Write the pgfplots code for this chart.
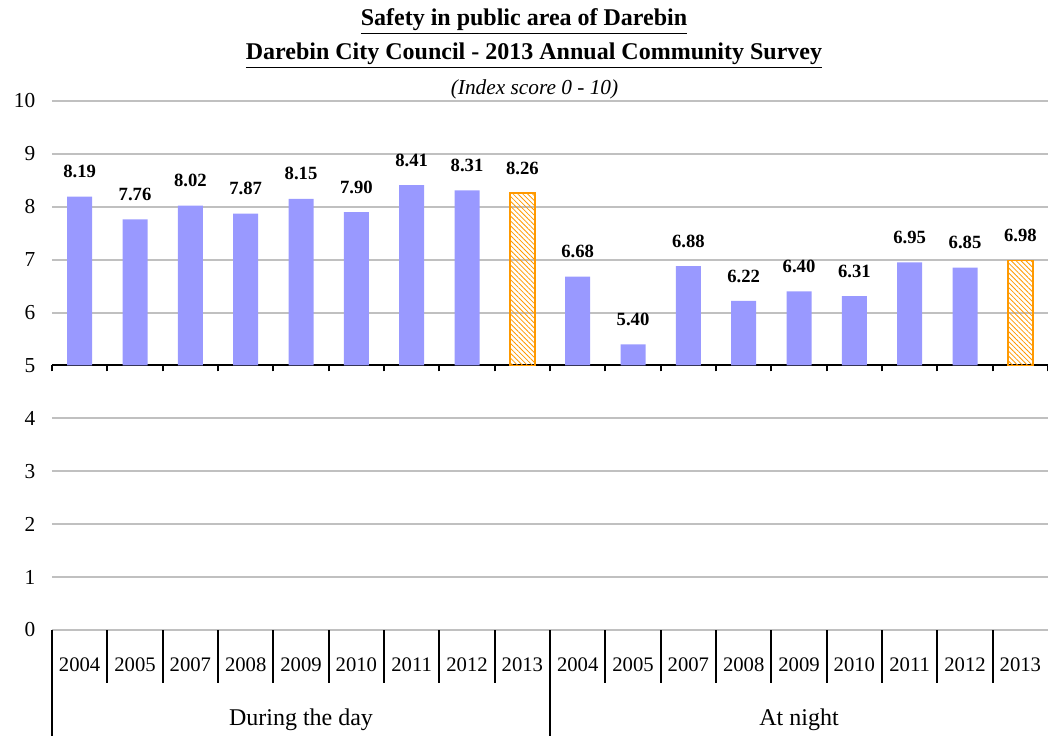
\documentclass[border=0pt]{standalone}
\usepackage{pgfplots}
\pgfplotsset{compat=1.18}
\usepackage{fontspec}
\setmainfont{Liberation Serif}
\usetikzlibrary{patterns.meta}
\definecolor{barblue}{RGB}{153,153,255}
\definecolor{barorange}{RGB}{255,153,0}
\definecolor{gridgray}{RGB}{192,192,192}

\pgfplotstableread{
x v
0 8.19
1 7.76
2 8.02
3 7.87
4 8.15
5 7.90
6 8.41
7 8.31
9 6.68
10 5.40
11 6.88
12 6.22
13 6.40
14 6.31
15 6.95
16 6.85
}\bluedata
\pgfplotstableread{
x v
8 8.26
17 6.98
}\orangedata

\begin{document}
\begin{tikzpicture}
\useasboundingbox (-39pt,-78.75pt) rectangle (747pt,472.5pt);
% main axis: grid, y labels, category labels
\begin{axis}[
  name=main, at={(0,0)}, anchor=south west,
  scale only axis, width=747pt, height=396.75pt,
  xmin=-0.5, xmax=17.5, ymin=0, ymax=10,
  clip=false,
  axis line style={draw=none},
  major tick length=0pt,
  ytick={0,1,...,10},
  ymajorgrids,
  grid style={gridgray, line width=1.5pt},
  xtick={0,...,17},
  xticklabels={2004,2005,2007,2008,2009,2010,2011,2012,2013,2004,2005,2007,2008,2009,2010,2011,2012,2013},
  xticklabel style={anchor=center, yshift=-26.25pt, font=\fontsize{15.5pt}{18pt}\selectfont},
  yticklabel style={xshift=-9pt, font=\fontsize{16pt}{18pt}\selectfont},
  /pgf/number format/assume math mode=true,
]
\pgfplotsinvokeforeach{0.5,1.5,2.5,3.5,4.5,5.5,6.5,7.5,9.5,10.5,11.5,12.5,13.5,14.5,15.5,16.5}{
  \draw[black, line width=1.5pt] (axis cs:#1,0) -- ([yshift=-39.75pt]axis cs:#1,0);
}
\draw[black, line width=1.5pt] (axis cs:-0.5,0) -- ([yshift=-80pt]axis cs:-0.5,0);
\draw[black, line width=1.5pt] (axis cs:8.5,0) -- ([yshift=-80pt]axis cs:8.5,0);
\node[font=\fontsize{18pt}{20pt}\selectfont] at ([yshift=-67.5pt]axis cs:4,0) {During the day};
\node[font=\fontsize{18pt}{20pt}\selectfont] at ([yshift=-67.5pt]axis cs:13,0) {At night};
\end{axis}
% bars axis: from 5 to 10
\begin{axis}[
  at={(0,198.375pt)}, anchor=south west,
  scale only axis, width=747pt, height=198.375pt,
  xmin=-0.5, xmax=17.5, ymin=5, ymax=10,
  axis x line*=bottom,
  axis y line=none,
  x axis line style={black, line width=1.5pt},
  xtick={-0.5,0.5,...,17.5},
  xticklabels={},
  ytick=\empty,
  tick align=outside,
  major tick length=4.5pt,
  x tick style={black, line width=1.5pt},
  ybar, bar width=18.75pt, bar shift=0pt,
  nodes near coords,
  every node near coord/.append style={anchor=center, yshift=18.75pt, font=\bfseries\fontsize{14pt}{16pt}\selectfont, text=black},
  /pgf/number format/.cd, fixed, fixed zerofill, precision=2, assume math mode=true,
]
\addplot[fill=barblue, draw=none] table[x=x, y=v] {\bluedata};
\addplot[draw=barorange, line width=1pt, pattern={Lines[angle=-45, distance=2.6pt, line width=0.6pt]}, pattern color=barorange] table[x=x, y=v] {\orangedata};
\end{axis}
% titles
\node[font=\bfseries\fontsize{18pt}{20pt}\selectfont] at (354pt,456.5pt) {\underline{Safety in public area of Darebin}};
\node[font=\bfseries\fontsize{18pt}{20pt}\selectfont] at (361.5pt,431pt) {\underline{Darebin City Council - 2013 Annual Community Survey}};
\node[font=\itshape\fontsize{16pt}{18pt}\selectfont] at (361.9pt,405.5pt) {(Index score 0 - 10)};
\end{tikzpicture}
\end{document}
